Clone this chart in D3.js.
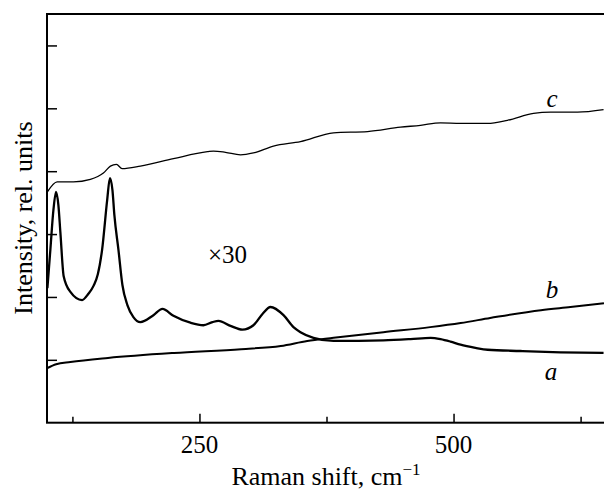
<!DOCTYPE html>
<html>
<head>
<meta charset="utf-8">
<script src="https://cdn.jsdelivr.net/npm/d3@7"></script>
<style>
  body { margin: 0; background: #fff; }
  svg { display: block; }
  text { font-family: "Liberation Serif", "Times New Roman", serif; fill: #000; }
</style>
</head>
<body>
<svg id="chart" width="604" height="491"></svg>
<script>
// data (Raman shift cm-1, rel. intensity)
var curveA = [[100.4,2.14],[103.3,2.75],[106.3,3.38],[108.9,3.67],[111.2,3.46],[113.2,3.02],[116.4,2.33],
  [123,2.08],[134.5,1.95],[140.7,2.05],[145.9,2.18],[150,2.36],[154.2,2.75],[159.2,3.54],[161.9,3.89],
  [164.4,3.70],[166.3,3.30],[170.3,2.75],[174.2,2.19],[179.1,1.87],[185,1.68],[191.9,1.60],[204.7,1.71],
  [213.6,1.81],[224.4,1.70],[241.1,1.59],[253.9,1.55],[262.8,1.60],[268.7,1.62],[280.5,1.54],[292.3,1.48],
  [303.1,1.55],[312,1.73],[319.9,1.84],[332.7,1.71],[342.5,1.52],[349.4,1.44],[362.2,1.35],[381.9,1.30],
  [431.1,1.31],[457.7,1.33],[477.4,1.35],[487.2,1.33],[497,1.29],[506.9,1.24],[521.6,1.19],[533.5,1.16],
  [565.9,1.14],[605.3,1.12],[647.6,1.11]];

var curveB = [[100.4,0.87],[109,0.93],[123,0.965],[160,1.03],[225,1.11],[291,1.17],[330,1.22],[356,1.30],
  [382,1.35],[431,1.44],[477,1.52],[507,1.585],[536,1.665],[586,1.79],[615,1.84],[648,1.90]];

var curveC = [[100.4,3.67],[110,3.83],[126,3.83],[142.7,3.87],[155.5,3.97],[162.4,4.08],[168.3,4.11],
  [173.9,4.04],[191.9,4.08],[224.4,4.20],[257.9,4.31],[263.8,4.32],[275.6,4.30],[290.4,4.26],[303.1,4.29],
  [322.8,4.40],[349.4,4.47],[381.9,4.61],[415.4,4.63],[447.8,4.70],[467.5,4.73],[487.2,4.77],[506.9,4.76],
  [533.5,4.76],[553.1,4.81],[578.7,4.92],[595.5,4.94],[622,4.94],[647.6,4.98]];

var xMajor = [250, 500];
var xMinor = [125, 375, 625];
var yTicks = [1, 2, 3, 4, 5, 6];

var svg = d3.select('#chart');
var pLeft = 47, pRight = 606, pTop = 14, pBottom = 422.7;

var x = d3.scaleLinear().domain([100, 650]).range([pLeft, pRight]);
var y = d3.scaleLinear().domain([0, 6.5]).range([pBottom, pTop]);

svg.append('defs').append('clipPath').attr('id', 'clip')
  .append('rect').attr('x', pLeft).attr('y', pTop).attr('width', pRight - pLeft).attr('height', pBottom - pTop);

var line = d3.line()
  .x(function(d) { return x(d[0]); })
  .y(function(d) { return y(d[1]); })
  .curve(d3.curveMonotoneX);

var plot = svg.append('g').attr('clip-path', 'url(#clip)');
plot.append('path').datum(curveB).attr('d', line)
  .attr('fill', 'none').attr('stroke', '#000').attr('stroke-width', 2);
plot.append('path').datum(curveA).attr('d', line)
  .attr('fill', 'none').attr('stroke', '#000').attr('stroke-width', 2.3);
plot.append('path').datum(curveC).attr('d', line)
  .attr('fill', 'none').attr('stroke', '#000').attr('stroke-width', 1.3);

// ticks, inside the frame
var xAxis = d3.axisTop(x).tickValues(xMajor).tickSize(9).tickFormat('');
svg.append('g').attr('transform', 'translate(0,' + pBottom + ')').call(xAxis)
  .call(function(g) { g.select('.domain').remove(); })
  .selectAll('line').attr('stroke-width', 1.5);
var xAxisMinor = d3.axisTop(x).tickValues(xMinor).tickSize(6).tickFormat('');
svg.append('g').attr('transform', 'translate(0,' + pBottom + ')').call(xAxisMinor)
  .call(function(g) { g.select('.domain').remove(); })
  .selectAll('line').attr('stroke-width', 1.5);
var yAxis = d3.axisRight(y).tickValues(yTicks).tickSize(10).tickFormat('');
svg.append('g').attr('transform', 'translate(' + pLeft + ',0)').call(yAxis)
  .call(function(g) { g.select('.domain').remove(); })
  .selectAll('line').attr('stroke-width', 1.5);

// frame
svg.append('rect').attr('x', pLeft).attr('y', pTop)
  .attr('width', pRight - pLeft).attr('height', pBottom - pTop)
  .attr('fill', 'none').attr('stroke', '#000').attr('stroke-width', 2);

// tick labels
svg.selectAll('text.xlab').data(xMajor).enter().append('text')
  .attr('class', 'xlab')
  .attr('x', function(d) { return x(d); }).attr('y', 453)
  .attr('text-anchor', 'middle').style('font-size', '25px')
  .text(function(d) { return d; });

// axis titles
var xt = svg.append('text').attr('x', 326).attr('y', 485)
  .attr('text-anchor', 'middle').style('font-size', '26px');
xt.append('tspan').text('Raman shift, cm');
xt.append('tspan').attr('dy', -10).style('font-size', '17px').text('\u22121');

svg.append('text')
  .attr('transform', 'translate(32,218) rotate(-90)')
  .attr('text-anchor', 'middle').style('font-size', '26px')
  .text('Intensity, rel. units');

// annotations
var mult = svg.append('text').attr('x', 208).attr('y', 263).style('font-size', '25px');
mult.append('tspan').text('\u00d7');
mult.append('tspan').style('font-family', '"Liberation Serif"').text('30');
var labels = [['c', 552, 107], ['b', 552, 298], ['a', 551, 380]];
svg.selectAll('text.clab').data(labels).enter().append('text')
  .attr('class', 'clab')
  .attr('x', function(d) { return d[1]; }).attr('y', function(d) { return d[2]; })
  .attr('text-anchor', 'middle').style('font-size', '25px').style('font-style', 'italic')
  .text(function(d) { return d[0]; });
</script>
</body>
</html>
